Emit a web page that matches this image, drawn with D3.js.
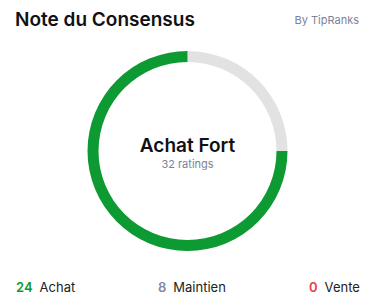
<!DOCTYPE html>
<html><head><meta charset="utf-8">
<script src="https://cdn.jsdelivr.net/npm/d3@7"></script>
<style>html,body{margin:0;padding:0;background:#fff;}</style>
</head><body>
<svg id="c" width="383" height="307"></svg>
<script>
const categories = ["Achat", "Maintien", "Vente"];
const counts = [24, 8, 0];
const colors = ["#0e9a33", "#e2e2e2", "#e8424a"];
const labelColors = ["#0e9a33", "#8189a4", "#e8424a"];
const title = "Note du Consensus";
const source = "By TipRanks";
const consensus = "Achat Fort";
const total = d3.sum(counts);

const svg = d3.select("#c");
const font = "Inter, 'Noto Sans', sans-serif";

svg.append("text").attr("x", 15).attr("y", 26).attr("font-family", font)
  .attr("font-size", 19).attr("font-weight", 600).attr("fill", "#111").text(title);
svg.append("text").attr("x", 359).attr("y", 24).attr("text-anchor", "end").attr("font-family", font)
  .attr("font-size", 11).attr("fill", "#7d8299").text(source);

const cx = 187.5, cy = 151, R = 100, thick = 11;
// order: Maintien (gray) first from top clockwise, then Achat
const order = [1, 0, 2];
const pie = d3.pie().sort(null).value(i => counts[i]);
const arcs = pie(order);
const arc = d3.arc().innerRadius(R - thick).outerRadius(R);
const g = svg.append("g").attr("transform", `translate(${cx},${cy})`);
g.selectAll("path").data(arcs.filter(d => d.value > 0)).join("path")
  .attr("d", arc).attr("fill", d => colors[d.data]);

svg.append("text").attr("x", cx).attr("y", 152).attr("text-anchor", "middle").attr("font-family", font)
  .attr("font-size", 19).attr("font-weight", 600).attr("fill", "#111").text(consensus);
svg.append("text").attr("x", cx).attr("y", 168).attr("text-anchor", "middle").attr("font-family", font)
  .attr("font-size", 11).attr("fill", "#7d8299").text(total + " ratings");

const legendX = [16, 158, 309];
categories.forEach((c, i) => {
  const t = svg.append("text").attr("x", legendX[i]).attr("y", 292).attr("font-family", font).attr("font-size", 13);
  t.append("tspan").attr("font-weight", 600).attr("fill", labelColors[i]).text(counts[i]);
  t.append("tspan").attr("dx", 7).attr("fill", "#222").text(c);
});
</script>
</body></html>
